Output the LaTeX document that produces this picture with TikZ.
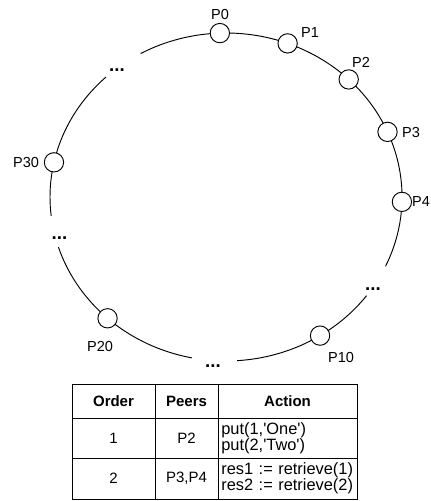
\documentclass[tikz,border=0pt]{standalone}
\usepackage{fontspec}
\setmainfont{Liberation Sans}
\usepackage{tikz}
\usetikzlibrary{positioning}

\begin{document}
\begin{tikzpicture}[
        x=0.03cm,
        y=0.03cm,
        line width=0.8pt,
        peer/.style={
            circle,
            draw,
            fill=white,
            minimum size=0.58cm,
            inner sep=0pt
        },
        peername/.style={
            font=\fontsize{12.4}{14}\selectfont,
            inner sep=0pt
        },
        gap/.style={
            font=\fontsize{16}{16}\selectfont\bfseries,
            anchor=base,
            inner sep=0pt
        },
        cell/.style={
            rectangle,
            draw,
            outer sep=0pt,
            inner sep=0pt,
            align=center,
            font=\fontsize{12.8}{12.5}\selectfont
        },
        head/.style={
            cell,
            font=\fontsize{12.8}{12.5}\selectfont\bfseries,
            minimum height=1.02cm
        },
        action/.style={
            cell,
            align=left,
            inner xsep=0.1cm,
            text width=3.97cm,
            font=\fontsize{14}{13}\selectfont
        }
    ]
        \useasboundingbox (0,0) rectangle (431,501);

        % Ring
        \begin{scope}[shift={(226,304)}]
            \draw (-25:176 and 164) arc[start angle=-25, end angle=119, x radius=176, y radius=164];
            \draw (133:176 and 164) arc[start angle=133, end angle=186.6, x radius=176, y radius=164];
            \draw (197.8:176 and 164) arc[start angle=197.8, end angle=258.8, x radius=176, y radius=164];
            \draw (273.6:176 and 164) arc[start angle=273.6, end angle=323, x radius=176, y radius=164];

            % Peers
            \node[peer] (p0) at (92:176 and 164) {};
            \node[peer] (p1) at (69.5:176 and 164) {};
            \node[peer] (p2) at (45.8:176 and 164) {};
            \node[peer] (p3) at (23.4:176 and 164) {};
            \node[peer] (p4) at (-1.7:176 and 164) {};
            \node[peer] (p10) at (-57.7:176 and 164) {};
            \node[peer] (p20) at (227.7:176 and 164) {};
            \node[peer] (p30) at (167.8:176 and 164) {};
        \end{scope}

        % Peer names
        \node[peername] (n0) at (220,486) {P0};
        \node[peername] (n1) at (310,468) {P1};
        \node[peername] (n2) at (361,439) {P2};
        \node[peername] (n3) at (411,368) {P3};
        \node[peername] (n4) at (421,299) {P4};
        \node[peername] (n10) at (341,143) {P10};
        \node[peername] (n20) at (100,154) {P20};
        \node[peername] (n30) at (26,338) {P30};

        % Omitted peers
        \node[gap] (g1) at (117,429) {...};
        \node[gap] (g2) at (59.5,261) {...};
        \node[gap] (g3) at (373,210) {...};
        \node[gap] (g4) at (213,133) {...};

        % Table
        \node[head, minimum width=2.49cm] (order) at (113.5,100) {Order};
        \node[head, minimum width=1.89cm, right=0pt of order] (peers) {Peers};
        \node[head, minimum width=4.17cm, right=0pt of peers] (act) {Action};

        \node[cell, minimum width=2.49cm, minimum height=1.2cm, below=0pt of order] (o1) {1};
        \node[cell, minimum width=1.89cm, minimum height=1.2cm, below=0pt of peers] (q1) {P2};
        \node[action, minimum height=1.2cm, below=0pt of act] (a1) {put(1,\textquotesingle One\textquotesingle)\\put(2,\textquotesingle Two\textquotesingle)};

        \node[cell, minimum width=2.49cm, minimum height=1.23cm, below=0pt of o1] (o2) {2};
        \node[cell, minimum width=1.89cm, minimum height=1.23cm, below=0pt of q1] (q2) {P3,P4};
        \node[action, minimum height=1.23cm, below=0pt of a1] (a2) {res1 := retrieve(1)\\res2 := retrieve(2)};
    \end{tikzpicture}
\end{document}
